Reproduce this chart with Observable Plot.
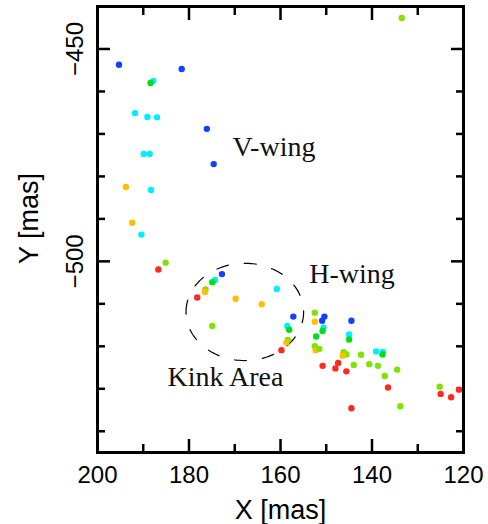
<!DOCTYPE html>
<html>
<head>
<meta charset="utf-8">
<script src="https://cdn.jsdelivr.net/npm/d3@7"></script>
<script src="https://cdn.jsdelivr.net/npm/@observablehq/plot@0.6"></script>
<style>
  html, body { margin: 0; padding: 0; background: #fff; }
  #chart { width: 488px; height: 524px; }
</style>
</head>
<body>
<div id="chart"></div>
<script>
// ---- data ----
const pointX = [195.3,181.6,187.8,188.4,191.8,189.1,187.0,176.1,189.9,188.6,174.6,193.8,188.3,192.4,190.4,186.7,185.1,172.8,174.3,174.9,176.4,176.5,178.2,169.8,160.8,164.1,157.2,158.5,158.1,174.9,158.4,158.7,159.8,152.5,150.4,150.9,152.5,144.5,150.6,150.8,152.2,145.0,145.0,152.5,152.3,151.5,150.8,147.4,148.0,145.6,146.2,145.6,146.4,144.0,142.4,139.1,137.6,137.7,140.6,138.7,134.5,137.2,136.5,125.2,125.0,122.7,121.0,144.5,133.8,133.5];
const pointY = [-453.7,-454.7,-457.5,-458.0,-465.1,-466.0,-466.1,-468.8,-474.7,-474.7,-477.1,-482.5,-483.2,-490.9,-493.7,-501.9,-500.3,-503.0,-504.4,-504.9,-506.6,-507.2,-508.5,-508.8,-506.5,-510.1,-513.0,-515.2,-516.1,-515.2,-518.5,-519.1,-520.9,-512.1,-513.0,-514.0,-514.2,-514.0,-515.6,-516.4,-517.7,-517.2,-518.4,-520.0,-520.9,-520.6,-524.6,-523.9,-525.2,-525.9,-521.4,-521.9,-522.2,-524.4,-522.0,-521.2,-521.3,-521.9,-524.2,-524.6,-525.5,-527.0,-529.7,-529.5,-531.2,-532.0,-530.2,-534.6,-534.1,-442.7];
// velocity bins: g1 = reddest ... g6 = bluest
const pointGroup = ["g6","g6","g5","g4","g5","g5","g5","g6","g5","g5","g6","g2","g5","g2","g5","g1","g3","g6","g5","g4","g3","g2","g1","g2","g5","g2","g6","g5","g4","g3","g3","g2","g1","g3","g6","g6","g2","g6","g5","g4","g4","g5","g4","g3","g2","g3","g1","g1","g1","g1","g3","g3","g2","g3","g3","g5","g5","g4","g3","g3","g3","g3","g1","g3","g1","g1","g1","g1","g3","g3"];

const groupNames  = ["g1","g2","g3","g4","g5","g6"];
const groupColors = ["#ff2a1e","#ffbf00","#7fe300","#00dc1e","#00eeff","#1440ff"];

const xMajorTicks = [200,180,160,140,120];
const xMinorTicks = [190,170,150,130];
const yMajorTicks = [-500,-450];
const yMinorTicks = [-540,-530,-520,-510,-490,-480,-470,-460];

const noteText = ["V-wing","H-wing","Kink Area"];
const noteX = [170.5,153.7,184.7];
const noteY = [-475.2,-505.0,-529.3];

// Kink area ellipse (data units)
const kinkCenter = [167.8,-511.9];
const kinkRadius = [12.85,11.45];

// ---- build ----
const points = pointX.map((x,i) => ({x, y: pointY[i], g: pointGroup[i]}));
const notes = noteText.map((t,i) => ({t, x: noteX[i], y: noteY[i]}));
const ellipse = d3.range(0, 361, 2).map(a => ({
  x: kinkCenter[0] + kinkRadius[0]*Math.cos(a*Math.PI/180),
  y: kinkCenter[1] + kinkRadius[1]*Math.sin(a*Math.PI/180)
}));

const sans = "'Liberation Sans', Arial, Helvetica, sans-serif";
const serif = "'Liberation Serif', 'Times New Roman', serif";
const empty = () => "";

const chart = Plot.plot({
  width: 488,
  height: 524,
  marginLeft: 97,
  marginRight: 25,
  marginTop: 6,
  marginBottom: 72,
  style: {fontFamily: sans, background: "white", color: "black"},
  x: {domain: [200,120]},
  y: {domain: [-545,-440]},
  color: {type: "ordinal", domain: groupNames, range: groupColors},
  marks: [
    // inward ticks on all four sides
    Plot.axisX(xMajorTicks, {anchor: "bottom", tickSize: -13, strokeWidth: 2.5, tickFormat: empty, label: null}),
    Plot.axisX(xMinorTicks, {anchor: "bottom", tickSize: -8, strokeWidth: 2.5, tickFormat: empty, label: null}),
    Plot.axisX(xMajorTicks, {anchor: "top", tickSize: -13, strokeWidth: 2.5, tickFormat: empty, label: null}),
    Plot.axisX(xMinorTicks, {anchor: "top", tickSize: -8, strokeWidth: 2.5, tickFormat: empty, label: null}),
    Plot.axisY(yMajorTicks, {anchor: "left", tickSize: -13, strokeWidth: 2.5, tickFormat: empty, label: null}),
    Plot.axisY(yMinorTicks, {anchor: "left", tickSize: -8, strokeWidth: 2.5, tickFormat: empty, label: null}),
    Plot.axisY(yMajorTicks, {anchor: "right", tickSize: -13, strokeWidth: 2.5, tickFormat: empty, label: null}),
    Plot.axisY(yMinorTicks, {anchor: "right", tickSize: -8, strokeWidth: 2.5, tickFormat: empty, label: null}),
    // tick labels
    Plot.axisX(xMajorTicks, {anchor: "bottom", tickSize: 0, tickPadding: 13, fontSize: 24, label: null}),
    Plot.axisY(yMajorTicks, {anchor: "left", tickSize: 0, tickPadding: 15, tickRotate: -90, fontSize: 24, label: null}),
    // axis titles
    Plot.text(["X [mas]"], {frameAnchor: "bottom", dy: 66, lineAnchor: "bottom", textAnchor: "middle", fontSize: 27}),
    Plot.text(["Y [mas]"], {frameAnchor: "left", dx: -60, dy: -11, rotate: -90, lineAnchor: "bottom", textAnchor: "middle", fontSize: 27}),
    // kink area ellipse
    Plot.line(ellipse, {x: "x", y: "y", stroke: "black", strokeWidth: 1.2, strokeDasharray: "12,16"}),
    // points
    Plot.dot(points, {x: "x", y: "y", fill: "g", r: 3.2, stroke: null}),
    // annotations
    Plot.text(notes, {x: "x", y: "y", text: "t", textAnchor: "start", lineAnchor: "bottom", fontSize: 28, fontFamily: serif, fill: "#111"}),
    Plot.frame({stroke: "black", strokeWidth: 3})
  ]
});
document.getElementById("chart").appendChild(chart);
</script>
</body>
</html>
